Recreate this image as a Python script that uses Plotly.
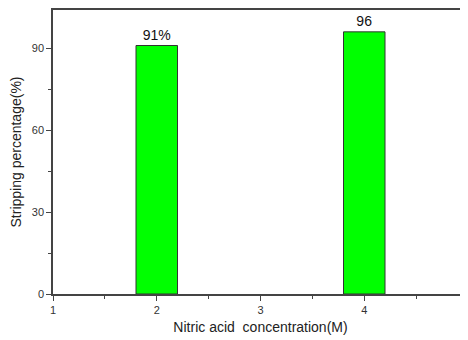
import plotly.graph_objects as go

concentrations = [2, 4]
stripping = [91, 96]
bar_labels = ["91%", "96"]
x_ticks = [1, 2, 3, 4, 5]
y_ticks = [0, 30, 60, 90]

fig = go.Figure()
fig.add_trace(go.Bar(
    x=concentrations, y=stripping, width=0.4,
    marker=dict(color="#00FF00", line=dict(color="#333333", width=1)),
    text=bar_labels, textposition="outside", cliponaxis=False,
    textfont=dict(family="Liberation Sans, Arial", size=14, color="#111111"),
))

axis_common = dict(
    showline=True, linecolor="#444444", linewidth=1.5, mirror=True,
    ticks="outside", ticklen=5, tickcolor="#444444", tickwidth=1,
    showgrid=False, zeroline=False, automargin=False,
    tickfont=dict(family="Liberation Sans, Arial", size=11, color="#333333"),
)

fig.update_layout(
    width=468, height=340,
    margin=dict(l=45, r=8, t=2, b=54),
    plot_bgcolor="white", paper_bgcolor="white",
    showlegend=False,
    xaxis=dict(range=[1, 5], tickvals=x_ticks,
               minor=dict(dtick=0.5, ticks="outside", ticklen=3, tickcolor="#444444"),
               title=dict(text="Nitric acid&nbsp;&nbsp;concentration(M)",
                          font=dict(family="Liberation Sans, Arial", size=14, color="#222222"),
                          standoff=7),
               **axis_common),
    yaxis=dict(range=[0, 104], tickvals=y_ticks,
               minor=dict(dtick=15, ticks="outside", ticklen=3, tickcolor="#444444"),
               title=dict(text="Stripping percentage(%)",
                          font=dict(family="Liberation Sans, Arial", size=14, color="#222222"),
                          standoff=8),
               **axis_common),
)

fig.write_html("out.html")
